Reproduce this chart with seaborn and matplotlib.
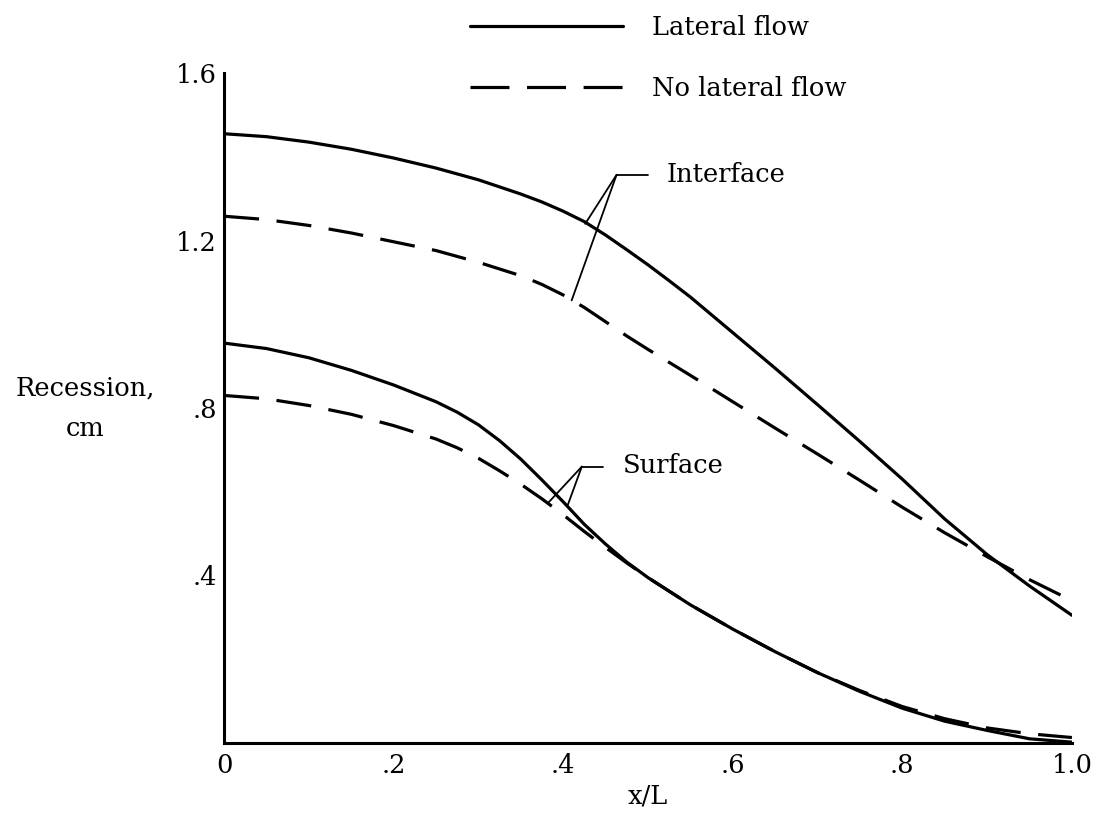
import matplotlib
matplotlib.use("Agg")
import matplotlib.pyplot as plt
import seaborn as sns
import pandas as pd

# ---- data ----
x_interface = [0.0, 0.05, 0.10, 0.15, 0.20, 0.25, 0.30, 0.35, 0.375, 0.40, 0.425, 0.45, 0.475, 0.50,
               0.525, 0.55, 0.60, 0.65, 0.70, 0.75, 0.80, 0.85, 0.90, 0.95, 1.00]
interface_lateral = [1.455, 1.448, 1.435, 1.418, 1.397, 1.373, 1.345, 1.311, 1.292, 1.270, 1.245,
                     1.213, 1.178, 1.142, 1.104, 1.065, 0.980, 0.895, 0.808, 0.720, 0.630, 0.535,
                     0.450, 0.375, 0.305]
interface_nolateral = [1.258, 1.250, 1.236, 1.218, 1.197, 1.176, 1.148, 1.116, 1.095, 1.070, 1.040,
                       1.006, 0.972, 0.940, 0.909, 0.878, 0.815, 0.752, 0.690, 0.627, 0.563, 0.502,
                       0.445, 0.390, 0.340]
x_surface = [0.0, 0.05, 0.10, 0.15, 0.20, 0.25, 0.275, 0.30, 0.325, 0.35, 0.375, 0.40, 0.425, 0.45,
             0.475, 0.50, 0.55, 0.60, 0.65, 0.70, 0.75, 0.80, 0.85, 0.90, 0.95, 1.00]
surface_lateral = [0.955, 0.942, 0.920, 0.890, 0.855, 0.815, 0.790, 0.760, 0.722, 0.678, 0.628,
                   0.576, 0.522, 0.475, 0.432, 0.395, 0.330, 0.272, 0.218, 0.168, 0.123, 0.083,
                   0.052, 0.030, 0.010, 0.002]
surface_nolateral = [0.830, 0.822, 0.806, 0.785, 0.758, 0.726, 0.705, 0.680, 0.650, 0.618, 0.583,
                     0.545, 0.505, 0.467, 0.430, 0.395, 0.330, 0.272, 0.218, 0.168, 0.125, 0.087,
                     0.058, 0.036, 0.022, 0.013]

flow_labels = ["Lateral flow", "No lateral flow"]
x_ticks = [0, 0.2, 0.4, 0.6, 0.8, 1.0]
x_ticklabels = ["0", ".2", ".4", ".6", ".8", "1.0"]
y_ticks = [0.4, 0.8, 1.2, 1.6]
y_ticklabels = [".4", ".8", "1.2", "1.6"]

rows = []
for layer, xs, lat, nolat in [("Interface", x_interface, interface_lateral, interface_nolateral),
                              ("Surface", x_surface, surface_lateral, surface_nolateral)]:
    for xv, yv in zip(xs, lat):
        rows.append({"x": xv, "rec": yv, "flow": flow_labels[0], "layer": layer})
    for xv, yv in zip(xs, nolat):
        rows.append({"x": xv, "rec": yv, "flow": flow_labels[1], "layer": layer})
df = pd.DataFrame(rows)

sns.set_style("white")
plt.rcParams["font.family"] = ["DejaVu Serif"]
plt.rcParams["text.color"] = "black"
plt.rcParams["axes.labelcolor"] = "black"
FS = 18.5

fig = plt.figure(figsize=(10.96, 8.26), dpi=100)
ax = fig.add_axes([0.2044, 0.1005, 0.7736, 0.8111])

sns.lineplot(data=df, x="x", y="rec", style="flow", units="layer", estimator=None,
             color="black", linewidth=2.3, sort=False,
             dashes={flow_labels[0]: "", flow_labels[1]: (11, 5.5)},
             style_order=flow_labels, ax=ax)

ax.set_xlim(0, 1.0)
ax.set_ylim(0, 1.6)
ax.set_xticks(x_ticks)
ax.set_xticklabels(x_ticklabels)
ax.set_yticks(y_ticks)
ax.set_yticklabels(y_ticklabels)
ax.tick_params(direction="in", length=15, width=1.5, labelsize=FS, color="black",
               labelcolor="black")
ax.tick_params(axis="x", pad=7)
ax.tick_params(axis="y", pad=5)
for s in ["top", "right"]:
    ax.spines[s].set_visible(False)
for s in ["left", "bottom"]:
    ax.spines[s].set_linewidth(2.2)
    ax.spines[s].set_color("black")

ax.set_xlabel("x/L", fontsize=FS, labelpad=4)
ax.set_ylabel("")
ax.text(-0.164, 0.5, "Recession,\ncm", transform=ax.transAxes, ha="center", va="center",
        multialignment="center", fontsize=FS, linespacing=1.75)

# legend
handles, labels = ax.get_legend_handles_labels()
leg = ax.legend(handles, labels, loc="upper left", bbox_to_anchor=(470 / 1096, 0.982),
                bbox_transform=fig.transFigure, frameon=False, fontsize=FS,
                handlelength=5.95, handletextpad=1.15, labelspacing=1.4, borderpad=0,
                borderaxespad=0)
for h in leg.legend_handles:
    h.set_linewidth(2.3)
leg.legend_handles[1].set_dashes((12.2, 5.5))

# leader annotations
lead_kw = dict(color="black", linewidth=1.3)
ax.text(0.522, 1.357, "Interface", fontsize=FS, va="center", ha="left")
ax.plot([0.463, 0.500], [1.357, 1.357], **lead_kw)
ax.plot([0.463, 0.426], [1.357, 1.240], **lead_kw)
ax.plot([0.463, 0.410], [1.357, 1.057], **lead_kw)

ax.text(0.470, 0.662, "Surface", fontsize=FS, va="center", ha="left")
ax.plot([0.422, 0.447], [0.660, 0.660], **lead_kw)
ax.plot([0.422, 0.383], [0.660, 0.575], **lead_kw)
ax.plot([0.422, 0.405], [0.660, 0.566], **lead_kw)

fig.savefig("out.png", dpi=100)
